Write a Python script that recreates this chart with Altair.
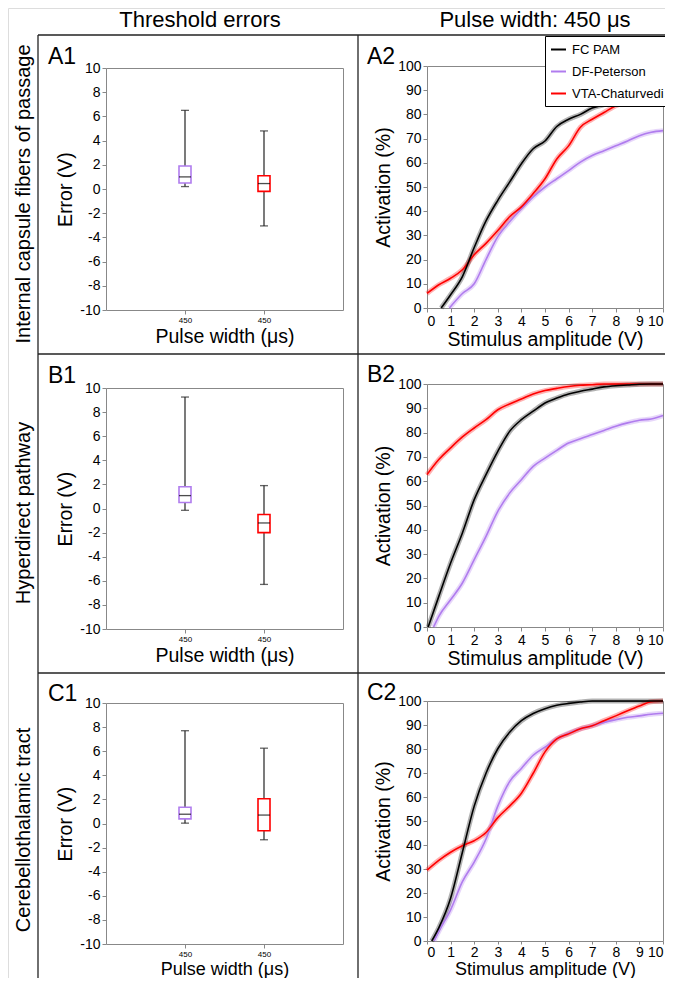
import altair as alt
import pandas as pd

W, H = 657, 970
FONT = "Liberation Sans"

# ---------------- data ----------------
METHODS = ["FC PAM", "DF-Peterson", "VTA-Chaturvedi"]
COLORS = ["#000000", "#b07cee", "#ff0000"]
BOX_METHODS = ["DF-Peterson", "VTA-Chaturvedi"]
PULSE_WIDTH_LABEL = "450"
ROW_LABELS = ["Internal capsule fibers of passage", "Hyperdirect pathway", "Cerebellothalamic tract"]
COL_TITLES = ["Threshold errors", "Pulse width: 450 μs"]
PANEL_TAGS = [["A1", "A2"], ["B1", "B2"], ["C1", "C2"]]
ERROR_TITLE = "Error (V)"
PULSE_TITLE = "Pulse width (μs)"
ACT_TITLE = "Activation (%)"
AMP_TITLE = "Stimulus amplitude (V)"

ERROR_TICKS = [-10, -8, -6, -4, -2, 0, 2, 4, 6, 8, 10]
ACT_TICKS = [0, 10, 20, 30, 40, 50, 60, 70, 80, 90, 100]
AMP_TICKS = [0, 1, 2, 3, 4, 5, 6, 7, 8, 9, 10]

# box stats: [low whisker, q1, median, q3, high whisker]
A1_DF = [0.2, 0.5, 1.0, 1.9, 6.5]
A1_VTA = [-3.05, -0.2, 0.45, 1.1, 4.8]
B1_DF = [-0.15, 0.5, 1.07, 1.8, 9.25]
B1_VTA = [-6.3, -2.0, -1.2, -0.5, 1.9]
C1_DF = [0.03, 0.38, 0.77, 1.35, 7.7]
C1_VTA = [-1.35, -0.6, 0.7, 2.05, 6.25]

GRID = [0.0, 0.5, 1.0, 1.5, 2.0, 2.5, 3.0, 3.5, 4.0, 4.5, 5.0, 5.5, 6.0, 6.5, 7.0, 7.5, 8.0, 8.5, 9.0, 9.5, 10.0]

A2_FC_X = [0.6, 1.0, 1.5, 2.0, 2.5, 3.0, 3.5, 4.0, 4.5, 5.0, 5.5, 6.0, 6.5, 7.0, 7.5, 8.0, 8.5, 9.0, 9.5, 10.0]
A2_FC_Y = [0, 5.5, 13, 25, 36, 44.5, 52, 59.6, 65.8, 69, 75, 78, 80, 82.6, 84, 86, 87.7, 89, 90.4, 91.8]
A2_DF_X = [0.95, 1.5, 2.0, 2.5, 3.0, 3.5, 4.0, 4.5, 5.0, 5.5, 6.0, 6.5, 7.0, 7.5, 8.0, 8.5, 9.0, 9.5, 10.0]
A2_DF_Y = [0, 6, 10, 20, 29.5, 35.6, 41, 45.9, 50, 53.4, 56.8, 60.3, 63, 65, 67, 69, 71.2, 72.6, 73.3]
A2_VTA_X = GRID
A2_VTA_Y = [6, 9.6, 12.3, 15.8, 22, 26.7, 32, 37.7, 41.8, 47.3, 53.4, 61.6, 67, 74.7, 78, 80.8, 83.6, 85.3, 87, 88.5, 90]

B2_FC_X = [0.05, 0.5, 1.0, 1.5, 2.0, 2.5, 3.0, 3.5, 4.0, 4.5, 5.0, 5.5, 6.0, 6.5, 7.0, 7.5, 8.0, 8.5, 9.0, 9.5, 10.0]
B2_FC_Y = [0, 12.6, 26.3, 38.7, 52.4, 62.7, 72.3, 80.5, 85.3, 88.8, 92.2, 94.2, 95.9, 97, 97.9, 98.8, 99.3, 99.6, 99.9, 100, 100]
B2_DF_X = [0.28, 0.5, 1.0, 1.5, 2.0, 2.5, 3.0, 3.5, 4.0, 4.5, 5.0, 5.5, 6.0, 6.5, 7.0, 7.5, 8.0, 8.5, 9.0, 9.5, 10.0]
B2_DF_Y = [0, 4.4, 11.2, 18.1, 27.7, 37.3, 47.6, 55.1, 60.6, 66.1, 69.5, 72.7, 75.7, 77.5, 79.2, 80.9, 82.6, 84, 85.1, 85.6, 87]
B2_VTA_X = GRID
B2_VTA_Y = [62.7, 68.9, 73.7, 78.2, 81.9, 85.3, 89.4, 91.8, 93.8, 95.9, 97.3, 98.2, 99, 99.5, 99.7, 100, 100, 100, 100, 100, 100]

C2_FC_X = [0.2, 0.5, 1.0, 1.5, 2.0, 2.5, 3.0, 3.5, 4.0, 4.5, 5.0, 5.5, 6.0, 6.5, 7.0, 7.5, 8.0, 8.5, 9.0, 9.5, 10.0]
C2_FC_Y = [0, 5.5, 17.8, 37, 56.2, 69.9, 80.1, 87, 91.8, 94.8, 96.8, 98.2, 99, 99.6, 100, 100, 100, 100, 100, 100, 100]
C2_DF_X = [0.3, 0.5, 1.0, 1.5, 2.0, 2.5, 3.0, 3.5, 4.0, 4.5, 5.0, 5.5, 6.0, 6.5, 7.0, 7.5, 8.0, 8.5, 9.0, 9.5, 10.0]
C2_DF_Y = [0, 4, 13, 24.7, 32.9, 42.5, 56.2, 66.4, 71.9, 77.4, 80.8, 84.2, 86.6, 88.4, 89.7, 91.1, 92.2, 93.2, 93.8, 94.5, 94.9]
C2_VTA_X = GRID
C2_VTA_Y = [29.5, 33.6, 37, 39.7, 41.8, 45.2, 51.4, 56.2, 61.6, 69.9, 78.8, 84.2, 86.3, 88.4, 89.7, 91.8, 93.8, 95.9, 97.9, 99.7, 100]

# ---------------- layout (pixels, chart coordinates) ----------------
COL_X = [(98, 335), (419, 655)]
ROW_Y_BOX = [(302, 60), (621, 380), (936, 695)]
ROW_Y_CURVE = [(300, 58), (619, 376), (933, 693)]
# bottom-axis styling per row: (tick size, label padding, title size, title padding)
BOX_XAXIS = [(4, 2, 19.5, 3), (4, 2, 19.5, 3), (4, 2, 18, 2)]
CURVE_XAXIS = [(4, 2, 19.5, 2), (4, 2, 19.5, 2), (3, 1, 18, 1)]

COLOR_SCALE = alt.Scale(domain=METHODS, range=COLORS)

LEGEND = alt.Legend(orient="none", legendX=537, legendY=28, title=None, symbolType="stroke",
                    symbolStrokeWidth=2, symbolSize=225, symbolOpacity=1, labelFontSize=13,
                    labelFont=FONT, labelColor="black", strokeColor="black", fillColor="white",
                    padding=5, rowPadding=6, labelOffset=5, cornerRadius=0, labelLimit=300)


def color_enc():
    return alt.Color("method:N", scale=COLOR_SCALE, legend=LEGEND)


def axis_left(x0, title, values, label_expr=None):
    kw = dict(orient="left", offset=-x0, values=values, title=title, grid=False,
              tickSize=4, labelFontSize=14, titleFontSize=19.5, titleFontWeight="normal",
              titlePadding=4, labelPadding=2)
    if label_expr:
        kw["labelExpr"] = label_expr
    return alt.Axis(**kw)


def axis_bottom(y0, title, label_size, style, values=None, label_expr=None):
    tick, lpad, tsize, tpad = style
    kw = dict(orient="bottom", offset=y0 - H, title=title, grid=False, tickSize=tick,
              labelFontSize=label_size, titleFontSize=tsize, titleFontWeight="normal",
              titlePadding=tpad, labelPadding=lpad, labelAngle=0)
    if values is not None:
        kw["values"] = values
    if label_expr:
        kw["labelExpr"] = label_expr
    return alt.Axis(**kw)


def axis_top(y_top):
    return alt.Axis(orient="top", offset=-y_top, labels=False, ticks=False, title=None, grid=False)


def axis_right(x_right):
    return alt.Axis(orient="right", offset=x_right - W, labels=False, ticks=False, title=None, grid=False)


def box_panel(row, df_stats, vta_stats):
    stats = [df_stats, vta_stats]
    df = pd.DataFrame({
        "method": BOX_METHODS,
        "lo": [s[0] for s in stats],
        "q1": [s[1] for s in stats],
        "med": [s[2] for s in stats],
        "q3": [s[3] for s in stats],
        "hi": [s[4] for s in stats],
    })
    x0, x1 = COL_X[0]
    yb, yt = ROW_Y_BOX[row]
    xsc = alt.Scale(type="point", domain=BOX_METHODS, range=[x0, x1], padding=1)
    ysc = alt.Scale(domain=[-10, 10], range=[yb, yt], nice=False, zero=False)
    base = alt.Chart(df)
    xn = alt.X("method:N", scale=xsc, axis=None)

    lower = base.mark_rule(color="#222", strokeWidth=1.2).encode(
        x=alt.X("method:N", scale=xsc,
                axis=axis_bottom(yb, PULSE_TITLE, 8, BOX_XAXIS[row],
                                 label_expr=f"'{PULSE_WIDTH_LABEL}'")),
        y=alt.Y("lo:Q", scale=ysc,
                axis=axis_left(x0, ERROR_TITLE, ERROR_TICKS, "'' + datum.value")),
        y2="q1:Q",
    )
    upper = base.mark_rule(color="#222", strokeWidth=1.2).encode(
        x=xn, y=alt.Y("q3:Q", scale=ysc, axis=None), y2="hi:Q")
    box = base.mark_bar(size=12, filled=False, strokeWidth=1.6).encode(
        x=alt.X("method:N", scale=xsc, axis=axis_top(yt)),
        y=alt.Y("q1:Q", scale=ysc, axis=axis_right(x1)),
        y2="q3:Q",
        color=color_enc(),
    )
    med = base.mark_tick(color="black", thickness=1.3, size=12).encode(
        x=xn, y=alt.Y("med:Q", scale=ysc, axis=None))
    cap_lo = base.mark_tick(color="#222", thickness=1.3, size=8).encode(
        x=xn, y=alt.Y("lo:Q", scale=ysc, axis=None))
    cap_hi = base.mark_tick(color="#222", thickness=1.3, size=8).encode(
        x=xn, y=alt.Y("hi:Q", scale=ysc, axis=None))
    return alt.layer(lower, upper, box, med, cap_lo, cap_hi).resolve_axis(x="independent", y="independent")


def curve_panel(row, series):
    recs = []
    for method, xs, ys in series:
        for a, v in zip(xs, ys):
            recs.append({"method": method, "amp": a, "act": v})
    df = pd.DataFrame(recs)
    x0, x1 = COL_X[1]
    yb, yt = ROW_Y_CURVE[row]
    xsc = alt.Scale(domain=[0, 10], range=[x0, x1], nice=False, zero=False)
    ysc = alt.Scale(domain=[0, 100], range=[yb, yt], nice=False, zero=False)
    base = alt.Chart(df)
    band = base.mark_line(strokeWidth=5, opacity=0.3, interpolate="monotone").encode(
        x=alt.X("amp:Q", scale=xsc,
                axis=axis_bottom(yb, AMP_TITLE, 14, CURVE_XAXIS[row], values=AMP_TICKS)),
        y=alt.Y("act:Q", scale=ysc, axis=axis_left(x0, ACT_TITLE, ACT_TICKS)),
        color=color_enc(),
    )
    line = base.mark_line(strokeWidth=1.6, interpolate="monotone").encode(
        x=alt.X("amp:Q", scale=xsc, axis=axis_top(yt)),
        y=alt.Y("act:Q", scale=ysc, axis=axis_right(x1)),
        color=color_enc(),
    )
    return alt.layer(band, line).resolve_axis(x="independent", y="independent")


panels = [
    curve_panel(0, [("DF-Peterson", A2_DF_X, A2_DF_Y), ("VTA-Chaturvedi", A2_VTA_X, A2_VTA_Y),
                    ("FC PAM", A2_FC_X, A2_FC_Y)]),
    curve_panel(1, [("DF-Peterson", B2_DF_X, B2_DF_Y), ("VTA-Chaturvedi", B2_VTA_X, B2_VTA_Y),
                    ("FC PAM", B2_FC_X, B2_FC_Y)]),
    curve_panel(2, [("DF-Peterson", C2_DF_X, C2_DF_Y), ("VTA-Chaturvedi", C2_VTA_X, C2_VTA_Y),
                    ("FC PAM", C2_FC_X, C2_FC_Y)]),
    box_panel(0, A1_DF, A1_VTA),
    box_panel(1, B1_DF, B1_VTA),
    box_panel(2, C1_DF, C1_VTA),
]

ONE = pd.DataFrame({"k": [0]})


def text_mark(txt, x, y, size, angle=0, align="left"):
    return alt.Chart(ONE).mark_text(text=txt, fontSize=size, angle=angle, align=align,
                                    baseline="alphabetic", font=FONT, color="black").encode(
        x=alt.value(x), y=alt.value(y))


decor = []
LINE_COLOR = "#222"
decor.append(alt.Chart(ONE).mark_rule(color=LINE_COLOR, strokeWidth=1.3).encode(
    x=alt.value(30), y=alt.value(27), y2=alt.value(H)))
decor.append(alt.Chart(ONE).mark_rule(color=LINE_COLOR, strokeWidth=1.3).encode(
    x=alt.value(350), y=alt.value(27), y2=alt.value(H)))
for yy in (27, 346, 665):
    decor.append(alt.Chart(ONE).mark_rule(color=LINE_COLOR, strokeWidth=1.3).encode(
        x=alt.value(30), x2=alt.value(W), y=alt.value(yy)))

decor.append(text_mark(COL_TITLES[0], 192, 19, 22, align="center"))
decor.append(text_mark(COL_TITLES[1], 527, 19, 22, align="center"))
for lbl, cy in zip(ROW_LABELS, (186, 505, 822)):
    decor.append(text_mark(lbl, 22, cy, 20, angle=270, align="center"))
TAG_POS = [[(40, 56), (359, 56)], [(40, 375), (359, 374)], [(40, 693), (359, 692)]]
for r in range(3):
    for c in range(2):
        px, py = TAG_POS[r][c]
        decor.append(text_mark(PANEL_TAGS[r][c], px, py, 23))

chart = alt.layer(*panels, *decor).resolve_scale(
    x="independent", y="independent"
).properties(
    width=W, height=H, autosize=alt.AutoSizeParams(type="none"), padding=0
).configure_view(stroke=None).configure_axis(
    labelFont=FONT, titleFont=FONT, titleFontWeight="normal", labelColor="#222",
    titleColor="#111", domainColor="#222", domainWidth=1.2, tickColor="#222", grid=False
).configure(background="white")

chart.save("out.html", embed_options={"renderer": "svg", "actions": False})
